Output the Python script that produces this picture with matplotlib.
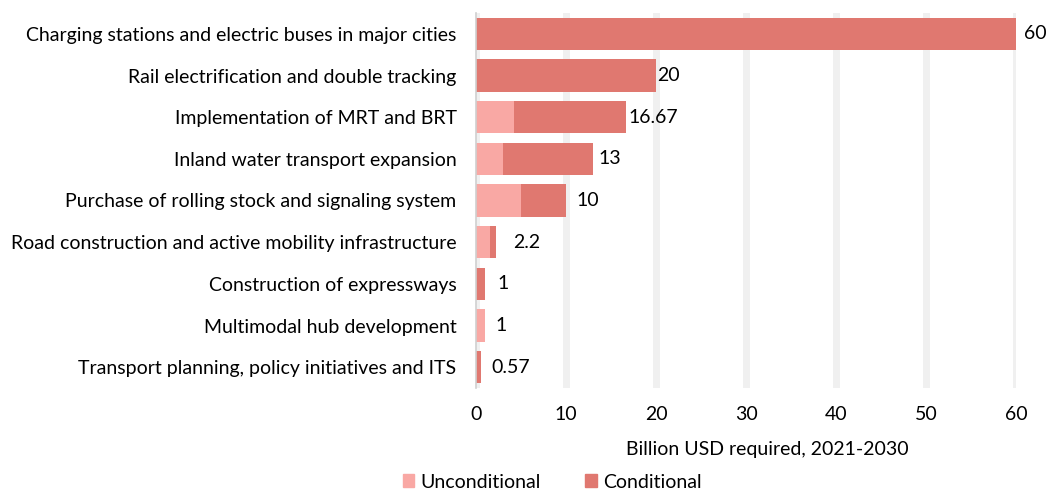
import matplotlib.pyplot as plt
from matplotlib.patches import Patch

plt.rcParams['font.family'] = ['Lato', 'DejaVu Sans']

categories = [
    "Charging stations and electric buses in major cities",
    "Rail electrification and double tracking",
    "Implementation of MRT and BRT",
    "Inland water transport expansion",
    "Purchase of rolling stock and signaling system",
    "Road construction and active mobility infrastructure",
    "Construction of expressways",
    "Multimodal hub development",
    "Transport planning, policy initiatives and ITS",
]
unconditional = [0, 0, 4.2, 3.0, 5.0, 1.5, 0, 1.0, 0]
conditional = [60, 20, 12.47, 10.0, 5.0, 0.7, 1.0, 0, 0.57]
totals = ["60", "20", "16.67", "13", "10", "2.2", "1", "1", "0.57"]
label_pad = [8, 1, 2, 5, 10, 17, 12, 10, 10]

c_uncond = "#f9a8a4"
c_cond = "#e07870"
fs = 14

fig = plt.figure(figsize=(10.48, 4.93), dpi=100)
ax = fig.add_axes([476 / 1048, 1 - 388 / 493, (1016 - 476) / 1048, (388 - 13) / 493])

y = list(range(len(categories)))
ax.barh(y, unconditional, height=0.77, color=c_uncond, zorder=3)
ax.barh(y, conditional, left=unconditional, height=0.77, color=c_cond, zorder=3)

for i, (u, c) in enumerate(zip(unconditional, conditional)):
    ax.annotate(totals[i], xy=(u + c, i), xytext=(label_pad[i] * 0.72, 0),
                textcoords="offset points", va="center", ha="left",
                fontsize=fs, color="black", annotation_clip=False)

ax.set_ylim(len(categories) - 0.5, -0.5)
ax.set_xlim(0, 60)
ax.set_xticks([0, 10, 20, 30, 40, 50, 60])
ax.set_yticks(y)
ax.set_yticklabels(categories, fontsize=fs)
ax.tick_params(axis="both", length=0, labelsize=fs)
ax.tick_params(axis="x", pad=13)
ax.tick_params(axis="y", pad=14)

ax.grid(axis="x", color="#f0f0f0", linewidth=5, zorder=0)
ax.set_axisbelow(True)
for side in ["top", "right", "bottom"]:
    ax.spines[side].set_visible(False)
ax.spines["left"].set_color("#d0d0d0")
ax.spines["left"].set_linewidth(1.2)
ax.spines["left"].set_zorder(4)

fig.text(767 / 1048, 1 - 450 / 493, "Billion USD required, 2021-2030",
         ha="center", va="center", fontsize=fs)

handles = [Patch(color=c_uncond, label="Unconditional"),
           Patch(color=c_cond, label="Conditional")]
fig.legend(handles=handles, loc="center", bbox_to_anchor=(552 / 1048, 1 - 482 / 493),
           ncol=2, frameon=False, fontsize=fs, handlelength=0.6, handleheight=0.6,
           handletextpad=0.3, columnspacing=2.3, borderpad=0)

fig.savefig("out.png", dpi=100)
